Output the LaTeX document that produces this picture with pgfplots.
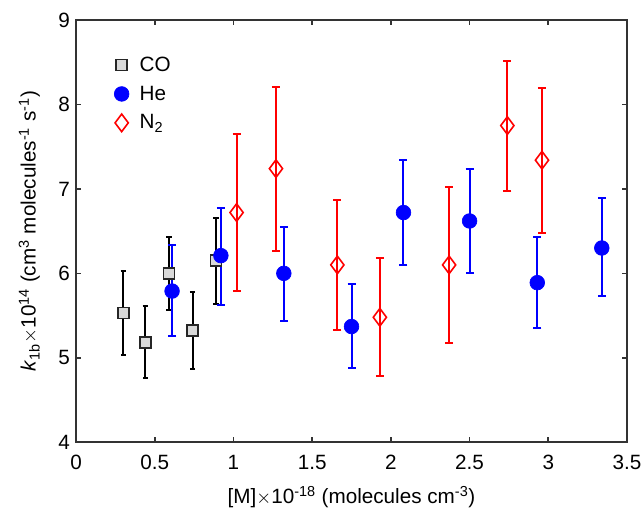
\documentclass[border=0pt]{standalone}
\usepackage{pgfplots}
\pgfplotsset{compat=1.18}
\usepackage{fontspec}
\setmainfont{Liberation Sans}
\begin{document}
\begin{tikzpicture}
\begin{axis}[
  name=ax,
  scale only axis,
  width=413pt, height=316.5pt,
  xmin=0, xmax=3.5, ymin=4, ymax=9,
  xtick={0,0.5,...,3.5}, ytick={4,5,...,9},
  xticklabels={0,0.5,1,1.5,2,2.5,3,3.5},
  tick align=inside, tick pos=both,
  major tick length=4pt,
  axis line style={draw=black!80, line width=1.2pt},
  every tick/.style={black!80, line width=1.2pt},
  /pgf/number format/assume math mode=true,
  tick label style={font=\fontsize{15.5}{18}\selectfont},
  xticklabel style={yshift=-6pt},
  yticklabel style={xshift=-1pt},
  label style={font=\fontsize{15.5}{18}\selectfont},
  xlabel style={at={(axis description cs:0.5,0)}, anchor=center, yshift=-41pt},
  ylabel style={at={(axis description cs:0,0.5)}, anchor=center, rotate=0, yshift=35pt},
  xlabel={[M]$\times$10\textsuperscript{-18} (molecules cm\textsuperscript{-3})},
  ylabel={\textit{k}\textsubscript{1b}$\times$10\textsuperscript{14} (cm\textsuperscript{3} molecules\textsuperscript{-1} s\textsuperscript{-1})},
  legend style={draw=none, fill=none, at={(0.069,0.92)}, anchor=north west,
    font=\fontsize{15.5}{18}\selectfont, row sep=5.5pt, inner sep=0pt,
    /tikz/every odd column/.append style={column sep=6pt}},
  legend cell align=left,
  legend image code/.code={\draw[mark repeat=2,mark phase=2] plot coordinates {(0cm,0cm)(0.3cm,0cm)(0.6cm,0cm)};},
  error bars/y dir=both, error bars/y explicit,
]
\addplot[black, line width=1.5pt, only marks, mark=square*,
  mark options={fill=black!15, draw=black!85, line width=1.2pt},
  mark size=4.1pt,
  error bars/error bar style={black, line width=1.5pt},
  error bars/error mark options={black, line width=1.5pt, rotate=90, mark size=2pt}]
coordinates {
 (0.30,5.53) += (0,0.50) -= (0,0.50)
 (0.44,5.18) += (0,0.43) -= (0,0.42)
 (0.59,6.00) += (0,0.43) -= (0,0.44)
 (0.74,5.32) += (0,0.46) -= (0,0.45)
 (0.89,6.15) += (0,0.50) -= (0,0.51)
};
\addlegendentry{CO}
\addplot[blue, line width=1.5pt, only marks, mark=*,
  mark options={fill=blue, draw=blue, line width=0.5pt},
  mark size=5.5pt,
  error bars/error bar style={blue, line width=1.5pt},
  error bars/error mark options={blue, line width=1.5pt, rotate=90, mark size=3pt}]
coordinates {
 (0.61,5.79) += (0,0.54) -= (0,0.53)
 (0.92,6.21) += (0,0.56) -= (0,0.58)
 (1.32,6.00) += (0,0.55) -= (0,0.56)
 (1.75,5.37) += (0,0.50) -= (0,0.49)
 (2.08,6.72) += (0,0.62) -= (0,0.62)
 (2.50,6.62) += (0,0.61) -= (0,0.62)
 (2.93,5.89) += (0,0.54) -= (0,0.54)
 (3.34,6.30) += (0,0.59) -= (0,0.57)
};
\addlegendentry{He}
\addplot[red, line width=1.5pt, only marks, mark=diamond,
  mark options={draw=red, fill=white, line width=1.2pt},
  mark size=6.6pt,
  error bars/error bar style={red, line width=1.5pt},
  error bars/error mark options={red, line width=1.5pt, rotate=90, mark size=3pt}]
coordinates {
 (1.02,6.72) += (0,0.93) -= (0,0.93)
 (1.27,7.24) += (0,0.97) -= (0,0.98)
 (1.66,6.10) += (0,0.77) -= (0,0.77)
 (1.93,5.48) += (0,0.70) -= (0,0.69)
 (2.37,6.10) += (0,0.92) -= (0,0.92)
 (2.74,7.75) += (0,0.77) -= (0,0.77)
 (2.96,7.34) += (0,0.85) -= (0,0.86)
};
\addlegendentry{N\textsubscript{2}}
\end{axis}
\pgfresetboundingbox
\useasboundingbox ([xshift=-57pt,yshift=-56.25pt]ax.south west) rectangle ([xshift=12.75pt,yshift=15pt]ax.north east);
\end{tikzpicture}
\end{document}
